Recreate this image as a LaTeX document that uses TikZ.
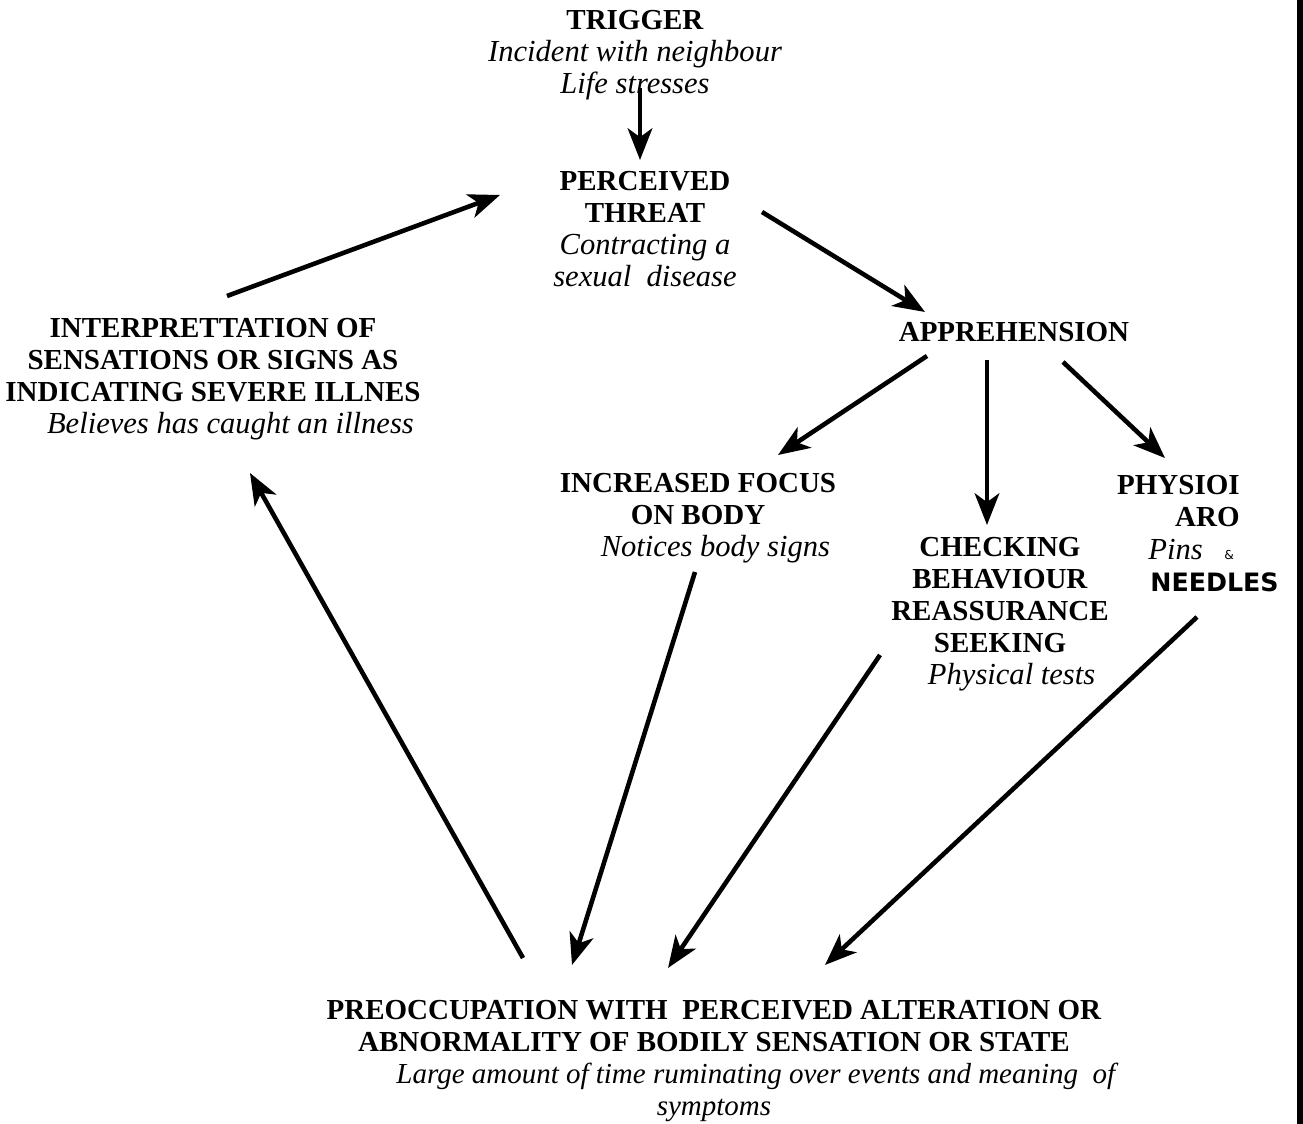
\documentclass[tikz,border=0pt]{standalone}
\usepackage{fontspec}
\setmainfont{Liberation Serif}
\newfontfamily\handfont{DejaVu Sans}
\usetikzlibrary{arrows.meta}

\newcommand{\subtext}[1]{{\fontsize{17.4}{18.2}\selectfont\itshape #1}}

\tikzset{
  label/.style = {align=center, inner sep=0pt, font=\fontsize{16.5}{18.2}\selectfont},
  link/.style = {line width=2.6pt, -{Stealth[length=18pt, width=14pt, inset=5pt]}}
}

\begin{document}
\begin{tikzpicture}
    [x=0.02cm, y=-0.02cm]
    \useasboundingbox (0,0) rectangle (1303,1124);

    % text blocks
    \node[label] (trigger) at (635,55) {\textbf{TRIGGER}\\ \subtext{Incident with neighbour}\\ \subtext{Life stresses}};
    \node[label] (threat) at (645,229) {\textbf{PERCEIVED}\\ \textbf{THREAT}\\ \subtext{Contracting a}\\ \subtext{sexual\ \ disease}};
    \node[label] (appr) at (1014,332) {\textbf{APPREHENSION}};
    \node[label] (interp) at (213,379) {\textbf{INTERPRETTATION OF}\\ \textbf{SENSATIONS OR SIGNS AS}\\ \textbf{INDICATING SEVERE ILLNES}\\ \hspace*{1.2em}\subtext{Believes has caught an illness}};
    \node[label] (focus) at (698,518) {\textbf{INCREASED FOCUS}\\ \textbf{ON BODY}\\ \hspace*{1.2em}\subtext{Notices body signs}};
    \node[label] (check) at (1000,614) {\textbf{CHECKING}\\ \textbf{BEHAVIOUR}\\ \textbf{REASSURANCE}\\ \textbf{SEEKING}\\ \hspace*{0.8em}\subtext{Physical tests}};
    \node[label, align=right, anchor=east] (physio) at (1240,501) {\textbf{PHYSIOI}\\ \textbf{ARO}};
    \node[label, anchor=west] (pins) at (1148,550) {\subtext{Pins}\ \ \ {\handfont\scriptsize\&}};
    \node[label, anchor=west, font=\handfont\bfseries\Large] (needles) at (1150,582) {NEEDLES};
    \node[label] (preocc) at (714,1061) {\textbf{PREOCCUPATION WITH\ \ PERCEIVED ALTERATION OR}\\ \textbf{ABNORMALITY OF BODILY SENSATION OR STATE}\\ \hspace*{3em}\textit{Large amount of time ruminating over events and meaning\ \ of}\\ \textit{symptoms}};

    % arrow ends
    \coordinate (t1) at (640,88);   \coordinate (t2) at (640,160);
    \coordinate (p1) at (762,212);  \coordinate (p2) at (925,312);
    \coordinate (i1) at (227,296);  \coordinate (i2) at (500,195);
    \coordinate (a1) at (927,356);  \coordinate (a2) at (778,455);
    \coordinate (b1) at (987,360);  \coordinate (b2) at (987,525);
    \coordinate (c1) at (1063,362); \coordinate (c2) at (1165,458);
    \coordinate (f1) at (695,572);  \coordinate (f2) at (572,965);
    \coordinate (k1) at (880,655);  \coordinate (k2) at (668,968);
    \coordinate (h1) at (1197,617); \coordinate (h2) at (825,965);
    \coordinate (q1) at (523,958);  \coordinate (q2) at (250,473);

    \foreach \from/\to in {t1/t2,p1/p2,i1/i2,a1/a2,b1/b2,c1/c2,f1/f2,k1/k2,h1/h2,q1/q2}
      \draw[link] (\from) -- (\to);

    % scan edge
    \fill[black] (1297,0) rectangle (1303,1124);
\end{tikzpicture}
\end{document}
